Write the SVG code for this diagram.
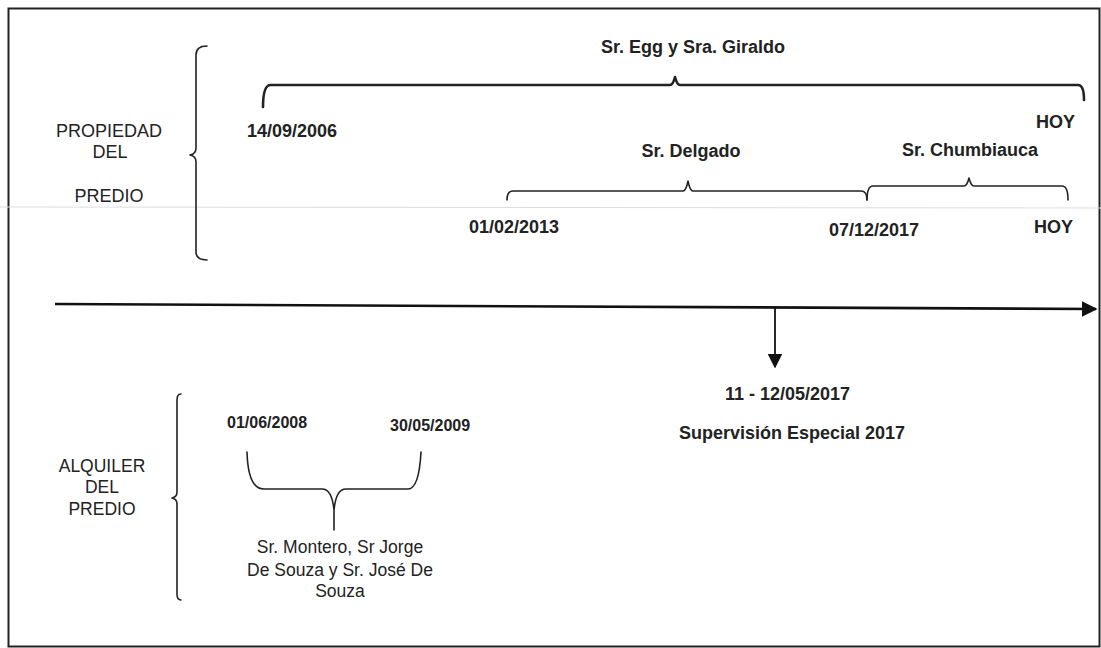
<svg xmlns="http://www.w3.org/2000/svg" width="1101" height="648" viewBox="0 0 1101 648">
<style>
.t{font-family:"Liberation Sans",Arial,sans-serif;fill:#222}
.b{font-weight:bold;font-size:18px}
.r{font-size:17.5px}
.p{font-size:18px}
.d{font-weight:bold;font-size:16px}
.br{fill:none;stroke:#222;stroke-width:1.6;stroke-linejoin:round;stroke-linecap:round}
.ln{fill:none;stroke:#111;stroke-width:2.6}
</style>
<defs>
<marker id="ah" viewBox="0 0 10 10" refX="9" refY="5" markerWidth="6" markerHeight="6" orient="auto" markerUnits="strokeWidth">
<path d="M0,0 L10,5 L0,10 Z" fill="#111"/>
</marker>
<marker id="ah2" viewBox="0 0 10 10" refX="9" refY="5" markerWidth="8" markerHeight="8" orient="auto" markerUnits="strokeWidth">
<path d="M0,0 L10,5 L0,10 Z" fill="#111"/>
</marker>
</defs>
<rect x="0" y="0" width="1101" height="648" fill="#fff"/>
<rect x="8.5" y="8.5" width="1091" height="638" fill="none" stroke="#222" stroke-width="2"/>
<line x1="0" y1="207" x2="1101" y2="208" stroke="#ddd" stroke-width="1"/>

<g id="propiedad">
<path class="br" d="M207,46 Q196,46 196,55 L196,148 Q196,154 190,155 Q196,156 196,162 L196,252 Q196,260 207,260"/>
<text class="t p" text-anchor="middle" x="109" y="137">PROPIEDAD</text>
<text class="t p" text-anchor="middle" x="110" y="158">DEL</text>
<text class="t p" text-anchor="middle" x="109" y="202">PREDIO</text>
</g>

<g id="egg-giraldo">
<path class="br" style="stroke-width:2.6" d="M263,107 Q263,86 270,85 L670,85 Q673,85 675,77 Q677,85 680,85 L1078,85 Q1084,85 1084,100"/>
<text class="t b" text-anchor="middle" x="693" y="53">Sr. Egg y Sra. Giraldo</text>
<text class="t b" x="247" y="137">14/09/2006</text>
<text class="t b" x="1036" y="128">HOY</text>
</g>

<g id="delgado">
<path class="br" d="M507,200 Q507,191 513,191 L683,191 Q686,191 688,181 Q690,191 693,191 L861,191 Q867,191 867,200"/>
<text class="t b" text-anchor="middle" x="691" y="157">Sr. Delgado</text>
<text class="t b" x="469" y="233">01/02/2013</text>
</g>

<g id="chumbiauca">
<path class="br" d="M867,200 Q867,186 873,186 L964,186 Q967,186 969,178 Q971,186 974,186 L1062,186 Q1068,186 1068,200"/>
<text class="t b" text-anchor="middle" x="970" y="156">Sr. Chumbiauca</text>
<text class="t b" x="829" y="236">07/12/2017</text>
<text class="t b" x="1034" y="233">HOY</text>
</g>

<g id="connectors">
<line class="ln" x1="55" y1="304" x2="1096" y2="309" marker-end="url(#ah)"/>
<line class="ln" style="stroke-width:1.8" x1="775" y1="308" x2="775" y2="367" marker-end="url(#ah2)"/>
</g>

<g id="supervision">
<text class="t b" x="725" y="400">11 - 12/05/2017</text>
<text class="t b" text-anchor="middle" x="792" y="439">Supervisión Especial 2017</text>
</g>

<g id="alquiler">
<path class="br" d="M181,394 Q177,394 177,400 L177,492 Q177,497 172,498 Q177,499 177,504 L177,594 Q177,600 181,600"/>
<text class="t r" text-anchor="middle" x="102" y="472">ALQUILER</text>
<text class="t r" text-anchor="middle" x="102" y="493">DEL</text>
<text class="t r" text-anchor="middle" x="102" y="515">PREDIO</text>
</g>

<g id="rental">
<path class="br" d="M247,452 Q248,489 264,489 L322,489 Q332,489 334,510 L334,530 M334,510 Q336,489 346,489 L408,489 Q419,489 421,452"/>
<text class="t d" x="227" y="428">01/06/2008</text>
<text class="t d" x="390" y="431">30/05/2009</text>
<text class="t r" text-anchor="middle" x="340" y="553">Sr. Montero, Sr Jorge</text>
<text class="t r" text-anchor="middle" x="340" y="576">De Souza y Sr. José De</text>
<text class="t r" text-anchor="middle" x="340" y="597">Souza</text>
</g>
</svg>
